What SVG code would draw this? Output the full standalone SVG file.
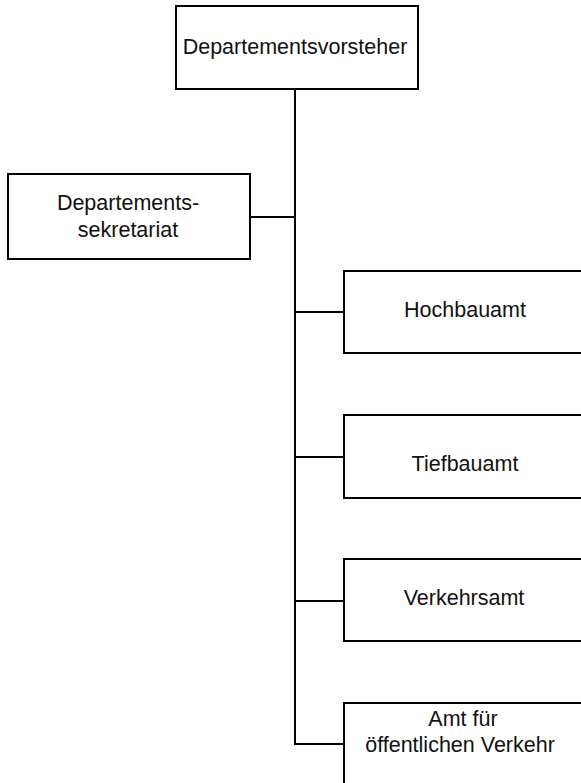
<svg xmlns="http://www.w3.org/2000/svg" width="581" height="783" viewBox="0 0 581 783">
<style>
.box{fill:#fff;stroke:#000;stroke-width:2}
.ln{fill:none;stroke:#000;stroke-width:2}
text{font-family:"Liberation Sans",Arial,sans-serif;font-size:21.5px;fill:#111;text-anchor:middle}
</style>
<rect width="581" height="783" fill="#fff"/>
<g id="connectors">
<path class="ln" d="M295,89 V744 H344"/>
<path class="ln" d="M250,217 H295"/>
<path class="ln" d="M295,312 H344"/>
<path class="ln" d="M295,457 H344"/>
<path class="ln" d="M295,601 H344"/>
</g>
<g id="vorsteher">
<rect class="box" x="176" y="6" width="242" height="83"/>
<text x="295" y="54">Departementsvorsteher</text>
</g>
<g id="sekretariat">
<rect class="box" x="8" y="174" width="242" height="85"/>
<text x="128" y="210">Departements-</text>
<text x="128" y="237">sekretariat</text>
</g>
<g id="hochbauamt">
<rect class="box" x="344" y="271" width="250" height="82"/>
<text x="465" y="317">Hochbauamt</text>
</g>
<g id="tiefbauamt">
<rect class="box" x="344" y="415" width="250" height="83"/>
<text x="465" y="471">Tiefbauamt</text>
</g>
<g id="verkehrsamt">
<rect class="box" x="344" y="559" width="250" height="82"/>
<text x="464" y="605">Verkehrsamt</text>
</g>
<g id="oev">
<rect class="box" x="344" y="703" width="250" height="100"/>
<text x="463" y="726">Amt für</text>
<text x="460" y="752">öffentlichen Verkehr</text>
</g>
</svg>
